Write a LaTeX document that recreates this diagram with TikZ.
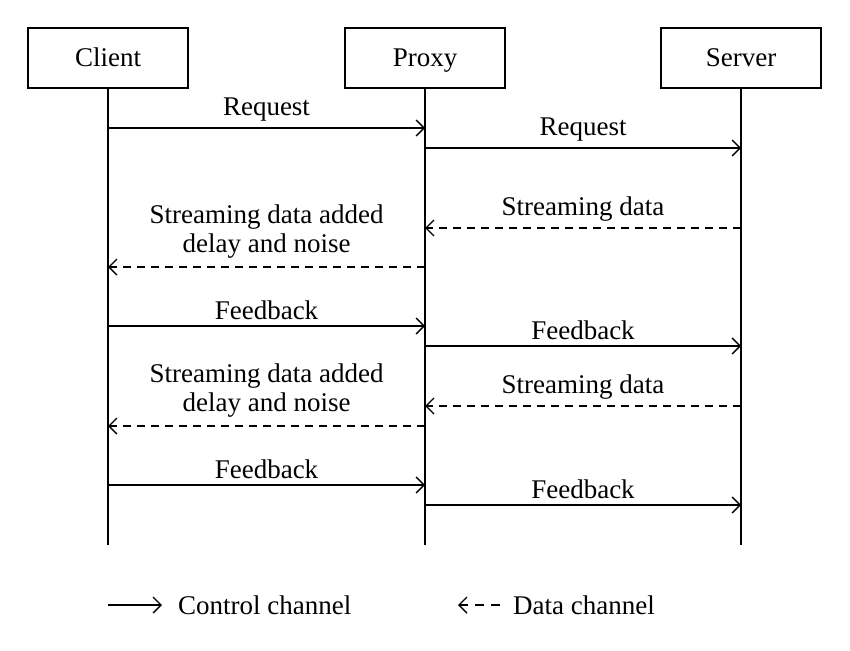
\documentclass[tikz,border=0pt]{standalone}
\usepackage{fontspec}
\setmainfont{Liberation Serif}
\usetikzlibrary{arrows.meta}
\begin{document}
\begin{tikzpicture}[x=1pt,y=-1pt,
  actor/.style={draw,line width=1.6pt,minimum width=160pt,minimum height=60pt,inner sep=0pt,text height=18pt,text depth=0pt,font=\fontsize{27}{31}\selectfont},
  life/.style={line width=1.4pt},
  ctrl/.style={line width=1.4pt,-{Straight Barb[length=8pt,width=16pt,line width=1.4pt]}},
  data/.style={line width=1.4pt,dash pattern=on 8pt off 6pt,-{Straight Barb[length=8pt,width=16pt,line width=1.4pt]}},
  lbl/.style={font=\fontsize{27}{29}\selectfont,inner sep=0pt,align=center}]
\useasboundingbox (0,0) rectangle (850,650);
\node[actor] (client) at (108,58) {Client};
\node[actor] (proxy) at (425,58) {Proxy};
\node[actor] (server) at (741,58) {Server};
\coordinate (ce) at (108,545);
\coordinate (pe) at (425,545);
\coordinate (se) at (741,545);
\draw[life] (client.south) -- (ce);
\draw[life] (proxy.south) -- (pe);
\draw[life] (server.south) -- (se);
% messages
\foreach \n/\y in {1/128,2/148,3/228,4/267,5/326,6/346,7/406,8/426,9/485,10/505}{
  \coordinate (c\n) at (108,\y);
  \coordinate (p\n) at (425,\y);
  \coordinate (s\n) at (741,\y);
}
\draw[ctrl] (c1) -- node[lbl,above=6pt] (l1) {Request} (p1);
\draw[ctrl] (p2) -- node[lbl,above=6pt] (l2) {Request} (s2);
\draw[data] (s3) -- node[lbl,above=6pt] (l3) {Streaming data} (p3);
\draw[data] (p4) -- node[lbl,above=8pt] (l4) {Streaming data added\\delay and noise} (c4);
\draw[ctrl] (c5) -- node[lbl,above=6pt] (l5) {Feedback} (p5);
\draw[ctrl] (p6) -- node[lbl,above=6pt] (l6) {Feedback} (s6);
\draw[data] (s7) -- node[lbl,above=6pt] (l7) {Streaming data} (p7);
\draw[data] (p8) -- node[lbl,above=8pt] (l8) {Streaming data added\\delay and noise} (c8);
\draw[ctrl] (c9) -- node[lbl,above=6pt] (l9) {Feedback} (p9);
\draw[ctrl] (p10) -- node[lbl,above=6pt] (l10) {Feedback} (s10);
% legend
\coordinate (la) at (108,605);
\coordinate (lb) at (162,605);
\coordinate (lc) at (500,605);
\coordinate (ld) at (458,605);
\draw[ctrl] (la) -- (lb);
\node[lbl,anchor=west] (lt1) at (178,605) {Control channel};
\draw[data,dash pattern=on 9pt off 7pt] (lc) -- (ld);
\node[lbl,anchor=west] (lt2) at (513,605) {Data channel};
\end{tikzpicture}
\end{document}
